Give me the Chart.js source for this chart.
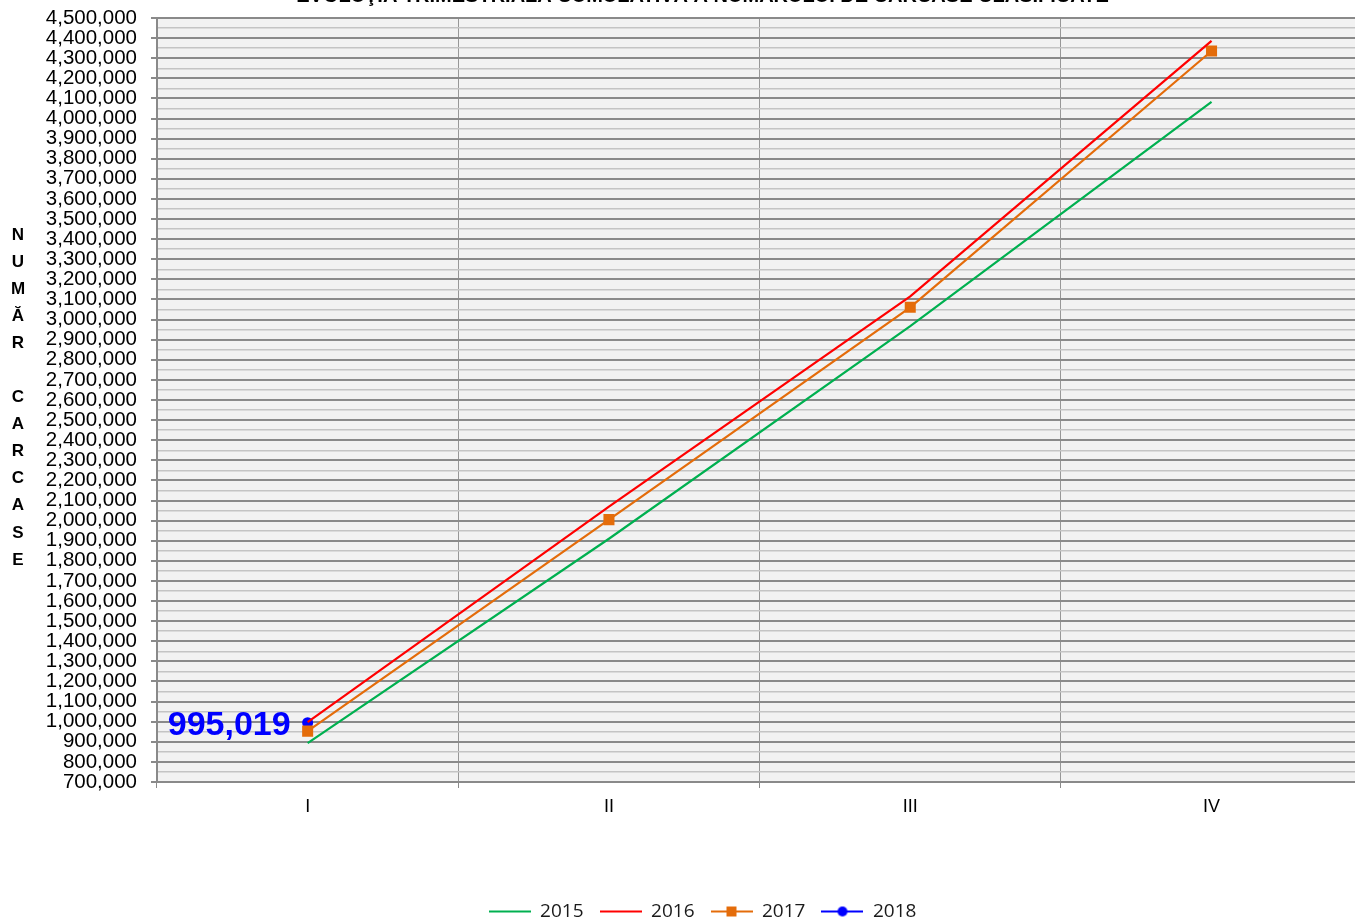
<!DOCTYPE html>
<html>
<head>
<meta charset="utf-8">
<script src="https://cdn.jsdelivr.net/npm/chart.js@4"></script>
<style>
  html, body { margin: 0; padding: 0; overflow: hidden; background: #fff; }
  #wrap { position: absolute; left: 0; top: -16px; width: 1370px; height: 947px; }
</style>
</head>
<body>
<div id="wrap"><canvas id="carcChart"></canvas></div>
<script>
// data
const quarters = ["I", "II", "III", "IV"];
const v2015 = [893000, 1910000, 2967000, 4083000];
const v2016 = [998000, 2070000, 3115000, 4386000];
const v2017 = [953000, 2005000, 3061000, 4336000];
const v2018 = [995019, null, null, null];
const yMin = 700000;
const yMax = 4500000;
const yStep = 50000;
const yTitle = "NUMĂR CARCASE";
const chartTitle = "EVOLUŢIA TRIMESTRIALĂ CUMULATIVĂ A NUMĂRULUI DE CARCASE CLASIFICATE";

const OFFSET = 16; // wrapper is shifted up

// legend icons: line with optional marker
function legendIcon(color, marker) {
  const c = document.createElement("canvas");
  c.width = 42;
  c.height = 14;
  const g = c.getContext("2d");
  g.strokeStyle = color;
  g.lineWidth = 2;
  g.beginPath();
  g.moveTo(0, 7);
  g.lineTo(42, 7);
  g.stroke();
  g.fillStyle = color;
  if (marker === "rect") g.fillRect(16, 2, 10, 10);
  if (marker === "circle") {
    g.beginPath();
    g.arc(21, 7, 5, 0, Math.PI * 2);
    g.fill();
  }
  return c;
}
const icons = [
  legendIcon("#00b050", null),
  legendIcon("#ff0000", null),
  legendIcon("#e46c0a", "rect"),
  legendIcon("#0000ff", "circle"),
];

// plot background, stacked axis title and the data label
const extras = {
  id: "extras",
  beforeDraw(chart) {
    const { ctx, chartArea: a } = chart;
    ctx.save();
    ctx.fillStyle = "#f2f2f2";
    ctx.fillRect(a.left, a.top, a.right - a.left, a.bottom - a.top);
    ctx.restore();
  },
  afterDraw(chart) {
    const ctx = chart.ctx;
    ctx.save();
    ctx.fillStyle = "#000";
    ctx.font = "bold 17px 'Liberation Sans', Arial, sans-serif";
    ctx.textAlign = "center";
    ctx.textBaseline = "middle";
    [...yTitle].forEach((ch, i) => {
      ctx.fillText(ch, 18, 235 + OFFSET + i * 27.08);
    });
    const pt = chart.getDatasetMeta(3).data[0];
    ctx.fillStyle = "#0000ff";
    ctx.font = "bold 34px 'Liberation Sans', Arial, sans-serif";
    ctx.textAlign = "right";
    ctx.fillText(v2018[0].toLocaleString("en-US"), pt.x - 17, pt.y + 3);
    ctx.restore();
  },
};

const dataCarc = {
  labels: quarters,
  datasets: [
    { label: "2015", data: v2015, borderColor: "#00b050", backgroundColor: "#00b050", pointRadius: 0 },
    { label: "2016", data: v2016, borderColor: "#ff0000", backgroundColor: "#ff0000", pointRadius: 0 },
    {
      label: "2017", data: v2017, borderColor: "#e46c0a", backgroundColor: "#e46c0a",
      pointStyle: "rect", pointRadius: 7.8, pointBorderWidth: 0,
    },
    {
      label: "2018", data: v2018, borderColor: "#0000ff", backgroundColor: "#0000ff",
      pointStyle: "circle", pointRadius: 5.5, pointBorderWidth: 0,
    },
  ],
};

const isMajor = (v) => v % 100000 === 0;

const configCarc = {
  type: "line",
  data: dataCarc,
  plugins: [extras],
  options: {
    responsive: true,
    maintainAspectRatio: false,
    animation: false,
    layout: { padding: { left: 40, right: 5, top: 0, bottom: 0 } },
    elements: { line: { borderWidth: 2.2, tension: 0 } },
    plugins: {
      tooltip: { enabled: false },
      title: {
        display: true,
        text: chartTitle,
        color: "#000",
        font: { family: "'Liberation Sans', Arial", size: 20, weight: "bold" },
        padding: { top: 0, bottom: 10 },
      },
      legend: {
        position: "bottom",
        labels: {
          usePointStyle: true,
          pointStyleWidth: 42,
          padding: 16,
          color: "#1a1a1a",
          font: { family: "'Open Sans'", size: 19 },
          generateLabels(chart) {
            return Chart.defaults.plugins.legend.labels
              .generateLabels(chart)
              .map((l, i) => ({ ...l, pointStyle: icons[i] }));
          },
        },
      },
    },
    scales: {
      x: {
        offset: true,
        grid: { offset: true, color: "#979797", lineWidth: 1, tickLength: 6, tickColor: "#8a8a8a" },
        border: { color: "#8a8a8a", width: 2 },
        ticks: { color: "#000", padding: 8, font: { family: "'Liberation Sans', Arial", size: 18 } },
        afterFit(scale) { scale.height = 104; },
      },
      y: {
        min: yMin,
        max: yMax,
        grid: {
          color: (c) => (isMajor(c.tick.value) ? "#8a8a8a" : "#c4c4c4"),
          lineWidth: (c) => (isMajor(c.tick.value) ? 2 : 1.5),
          tickColor: (c) => (isMajor(c.tick.value) ? "#8a8a8a" : "rgba(0,0,0,0)"),
          tickLength: 6,
        },
        border: { color: "#8a8a8a", width: 2 },
        ticks: {
          stepSize: yStep,
          autoSkip: false,
          maxTicksLimit: 200,
          padding: 14,
          color: "#000",
          font: { family: "'Liberation Sans', Arial", size: 20.5 },
          callback: (v) => (isMajor(v) ? v.toLocaleString("en-US") : ""),
        },
        afterFit(scale) { scale.width = 117; },
      },
    },
  },
};

const carcChart = new Chart(document.getElementById("carcChart"), configCarc);
</script>
</body>
</html>
